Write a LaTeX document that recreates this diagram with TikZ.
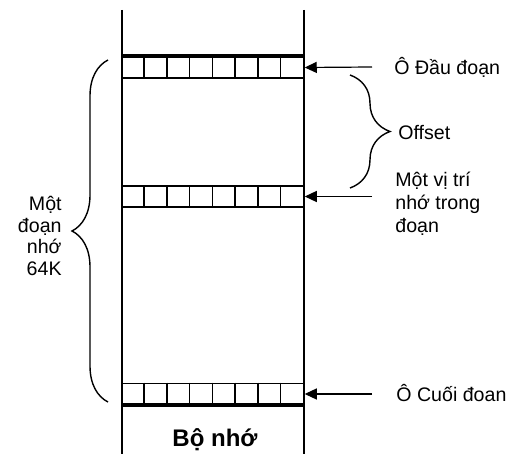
\documentclass[tikz,border=0pt]{standalone}
\usepackage{fontspec}
\setmainfont{Liberation Sans}
\usetikzlibrary{arrows.meta,decorations.pathreplacing}
\begin{document}
\begin{tikzpicture}[
    x=0.5pt, y=-0.5pt,
    memrow/.style={rectangle, draw, line width=0.75pt, minimum width=91pt, minimum height=10.5pt, inner sep=0pt},
    edge/.style={line width=2pt},
    pointer/.style={-{Triangle[length=6pt,width=5.5pt]}, line width=0.6pt},
    mbrace/.style={decorate, decoration={brace, amplitude=#1}, line width=0.7pt},
    label/.style={font=\fontsize{9.8}{11}\selectfont, inner sep=0pt}
]
    \useasboundingbox (0,0) rectangle (509,454);
    % Memory column
    \coordinate (colTL) at (122,10);
    \coordinate (colBL) at (122,454);
    \coordinate (colTR) at (304,10);
    \coordinate (colBR) at (304,454);
    \draw[line width=0.75pt] (colTL) -- (colBL);
    \draw[line width=0.75pt] (colTR) -- (colBR);

    % Rows of cells
    \node[memrow] (rowFirst) at (213,67.5) {};
    \node[memrow] (rowMid) at (213,196.5) {};
    \node[memrow] (rowLast) at (213,394) {};
    \foreach \r in {rowFirst,rowMid,rowLast}
        \foreach \k in {1,...,7}
            \draw[line width=0.75pt] (\r.north west) ++(\k*22.75,0) -- ++(0,21);
    \draw[edge] (rowFirst.north west) -- (rowFirst.north east);
    \draw[edge] (rowLast.south west) -- (rowLast.south east);

    % Labels
    \node[label, anchor=west] (firstLbl) at (394,67) {Ô Đầu đoạn};
    \node[label, anchor=west] (offsetLbl) at (398,133) {Offset};
    \node[label, anchor=north west, align=left, font=\fontsize{9.8}{11.3}\selectfont] (midLbl) at (395,172) {Một vị trí\\nhớ trong\\đoạn};
    \node[label, anchor=west] (lastLbl) at (396,393) {Ô Cuối đoan};
    \node[label, anchor=east, align=right, font=\fontsize{9.8}{10.8}\selectfont] (segLbl) at (62,236) {Một\\đoạn\\nhớ\\64K};
    \node[inner sep=0pt, font=\fontsize{12}{14}\selectfont\bfseries] (memLbl) at (215,440) {Bộ nhớ};

    % Pointers
    \coordinate (firstTail) at (372,67);
    \coordinate (midTail) at (372,196.5);
    \coordinate (lastTail) at (372,394);
    \draw[pointer] (firstTail) -- (rowFirst.east);
    \draw[pointer] (midTail) -- (rowMid.east);
    \draw[pointer] (lastTail) -- (rowLast.east);

    % Braces
    \draw[mbrace=20pt] (350,75) -- (350,188);
    \draw[mbrace=18pt] (108,402) -- (108,60);
\end{tikzpicture}
\end{document}
